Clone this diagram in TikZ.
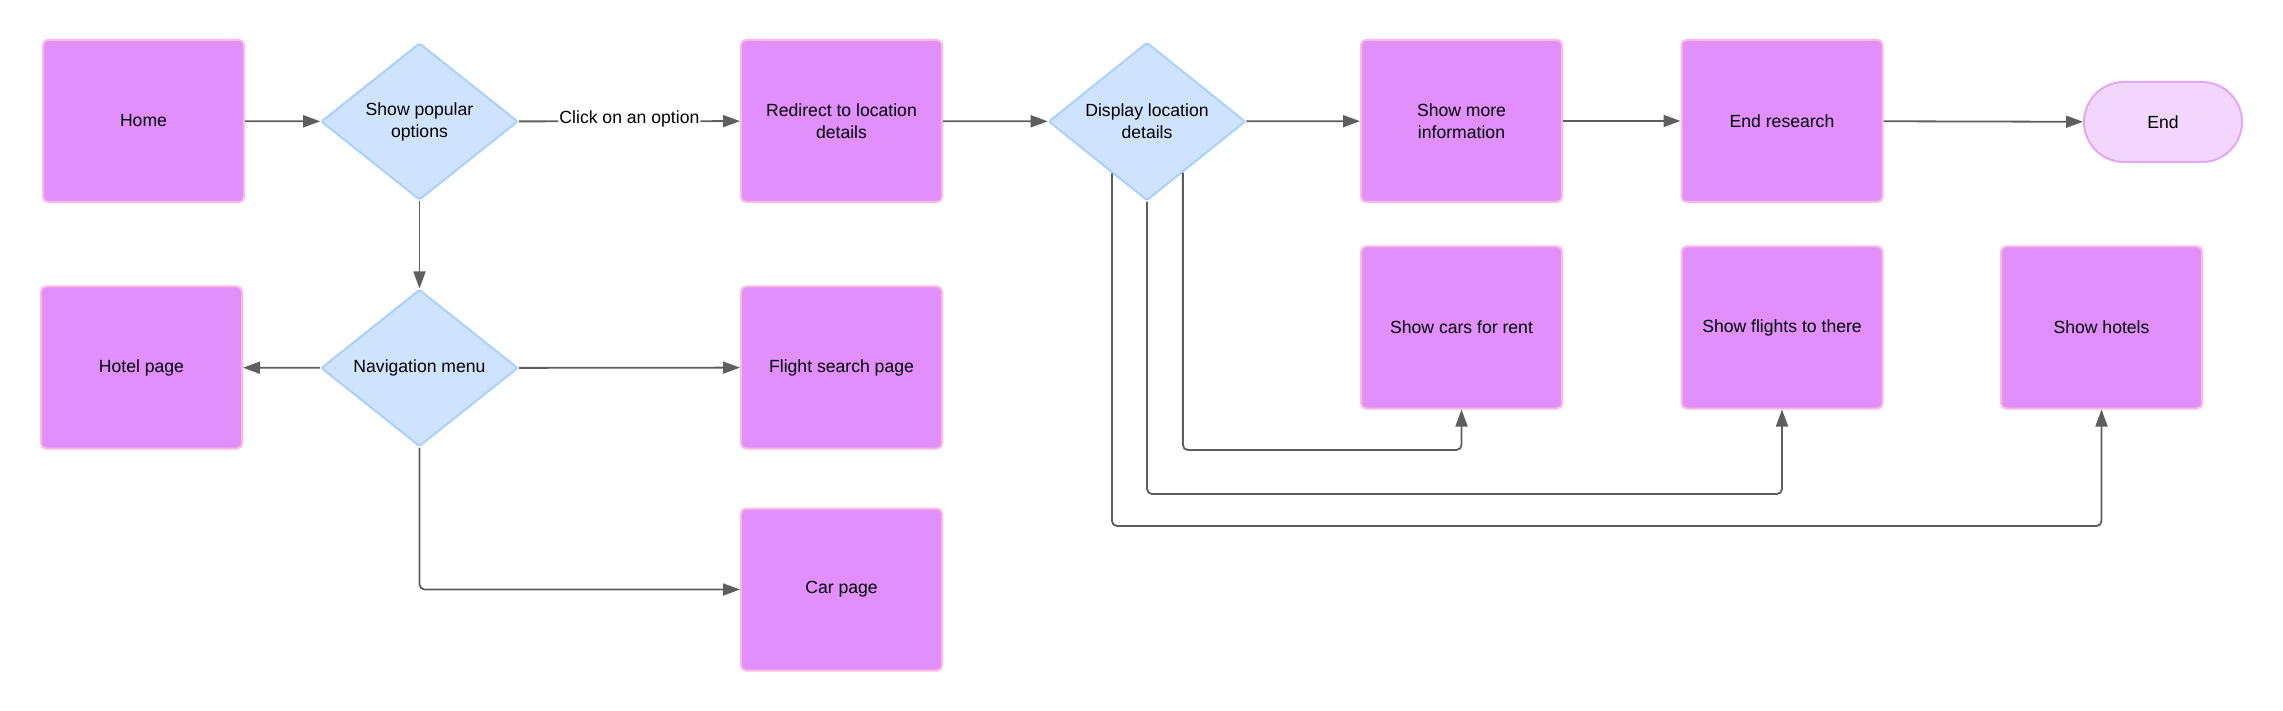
\documentclass[tikz,border=0pt]{standalone}
\usepackage{fontspec}
\setmainfont{Liberation Sans}
\usetikzlibrary{shapes.geometric,arrows.meta,calc}
\definecolor{boxfill}{HTML}{E18FFC}
\definecolor{boxline}{HTML}{FFB8DE}
\definecolor{dfill}{HTML}{CFE3FF}
\definecolor{dline}{HTML}{A9D0FF}
\definecolor{efill}{HTML}{F2D6FE}
\definecolor{eline}{HTML}{E3A7F7}
\definecolor{conn}{HTML}{5E5E5E}
\begin{document}
\begin{tikzpicture}[x=1pt,y=-1pt,
  every node/.style={font=\fontsize{17.6}{22}\selectfont, align=center, text=black},
  pbox/.style={draw=boxline, fill=boxfill, line width=2pt, rounded corners=5pt,
    minimum width=201pt, minimum height=162pt, inner sep=0pt},
  dbox/.style={diamond, draw=dline, fill=dfill, line width=2pt, rounded corners=2pt,
    minimum width=197pt, minimum height=157pt, inner sep=0pt},
  ebox/.style={draw=eline, fill=efill, line width=2pt, rounded corners=40pt,
    minimum width=158pt, minimum height=80pt, inner sep=0pt},
  arr/.style={draw=conn, line width=1.8pt, rounded corners=5pt,
    -{Triangle[length=17pt,width=12pt]}},
  lbl/.style={fill=white, inner sep=1pt}]
\useasboundingbox (0,0) rectangle (2283,711);
\node[pbox] (home) at (143.5,121) {Home};
\node[dbox] (pop) at (419.5,121.5) {Show popular\\options};
\node[pbox] (redir) at (841.5,121) {Redirect to location\\details};
\node[dbox] (disp) at (1147,121.5) {Display location\\details};
\node[pbox] (more) at (1461.5,121) {Show more\\information};
\node[pbox] (endr) at (1782,121) {End research};
\node[ebox] (end) at (2163,122) {End};
\node[pbox] (hotel) at (141.5,367.5) {Hotel page};
\node[dbox] (nav) at (419.5,368) {Navigation menu};
\node[pbox] (flight) at (841.5,367.5) {Flight search page};
\node[pbox] (car) at (841.5,589.5) {Car page};
\node[pbox] (cars) at (1461.5,327.5) {Show cars for rent};
\node[pbox] (flights) at (1782,327.5) {Show flights to there};
\node[pbox] (hotels) at (2101.5,327.5) {Show hotels};

\draw[arr] (home) -- (pop);
\draw[arr] (pop) -- node[lbl, yshift=2pt] {Click on an option} (redir);
\draw[arr] (redir) -- (disp);
\draw[arr] (disp) -- (more);
\draw[arr] (more) -- (endr);
\draw[arr] (endr) -- (end);
\draw[arr] (pop) -- (nav);
\draw[arr] (nav) -- (hotel);
\draw[arr] (nav) -- (flight);
\draw[arr] (nav.south) |- (car.west);
\draw[arr] (disp.-55.3) -- (disp.-55.3 |- 0,450) -| (cars.south);
\draw[arr] (disp.south) -- (disp.south |- 0,494) -| (flights.south);
\draw[arr] (disp.-124.7) -- (disp.-124.7 |- 0,526) -| (hotels.south);
\end{tikzpicture}
\end{document}
